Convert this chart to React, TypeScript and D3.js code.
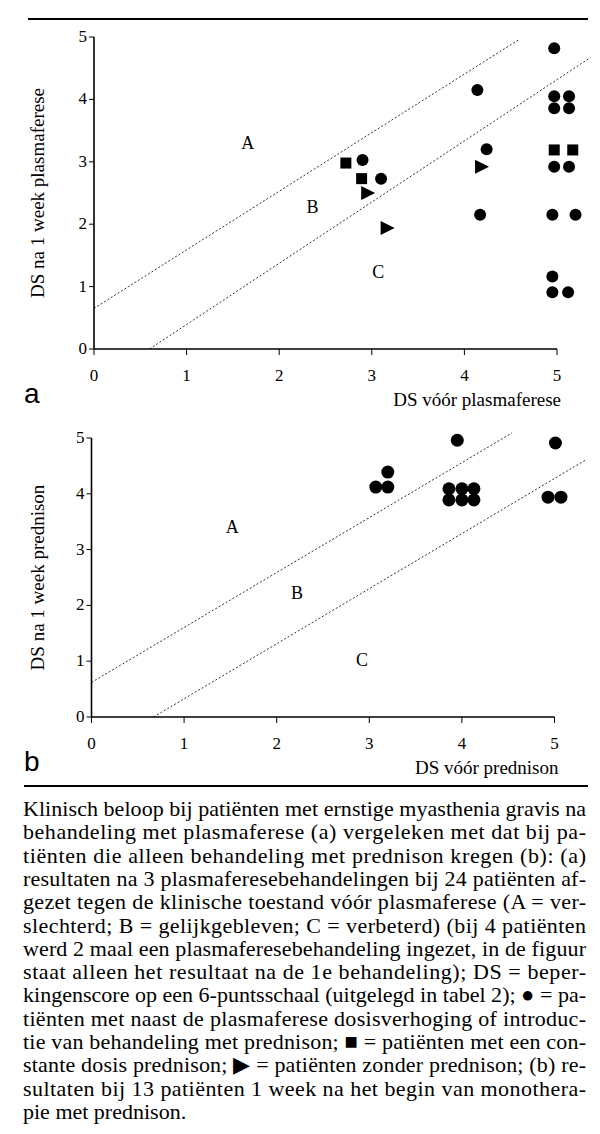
import * as React from 'react';
import * as d3 from "d3";

type Pt = [number, number];

// panel a: DS voor plasmaferese (x) vs DS na 1 week plasmaferese (y)
const circlesA: Pt[] = [
    [2.9, 3.03], [3.1, 2.73], [4.14, 4.15], [4.24, 3.2], [4.17, 2.15],
    [4.97, 4.82], [4.97, 4.05], [5.13, 4.05], [4.97, 3.86], [5.13, 3.86],
    [4.97, 2.92], [5.13, 2.92], [4.95, 2.15], [5.2, 2.15],
    [4.95, 1.16], [4.95, 0.91], [5.12, 0.91]
];
const squaresA: Pt[] = [[2.72, 2.98], [2.89, 2.73], [4.97, 3.19], [5.17, 3.19]];
const trianglesA: Pt[] = [[2.95, 2.5], [3.16, 1.94], [4.18, 2.92]];
const upperLineA: Pt[] = [[0, 0.65], [4.58, 4.95]];
const lowerLineA: Pt[] = [[0.6, 0], [5.36, 4.67]];
const regionsA: [string, number, number][] = [["A", 1.66, 3.3], ["B", 2.36, 2.28], ["C", 3.07, 1.23]];

// panel b: prednison monotherapie
const circlesB: Pt[] = [
    [3.95, 4.96], [5.01, 4.91], [3.2, 4.39], [3.07, 4.12], [3.2, 4.12],
    [3.86, 4.09], [4.0, 4.09], [4.13, 4.09], [3.86, 3.89], [4.0, 3.89], [4.13, 3.89],
    [4.93, 3.94], [5.07, 3.94]
];
const upperLineB: Pt[] = [[0, 0.62], [4.54, 5.09]];
const lowerLineB: Pt[] = [[0.67, 0], [5.33, 4.6]];
const regionsB: [string, number, number][] = [["A", 1.52, 3.4], ["B", 2.22, 2.22], ["C", 2.92, 1.02]];

const ticks = [0, 1, 2, 3, 4, 5];

const caption = [
    "Klinisch beloop bij patiënten met ernstige myasthenia gravis na",
    "behandeling met plasmaferese (a) vergeleken met dat bij pa-",
    "tiënten die alleen behandeling met prednison kregen (b): (a)",
    "resultaten na 3 plasmaferesebehandelingen bij 24 patiënten af-",
    "gezet tegen de klinische toestand vóór plasmaferese (A = ver-",
    "slechterd; B = gelijkgebleven; C = verbeterd) (bij 4 patiënten",
    "werd 2 maal een plasmaferesebehandeling ingezet, in de figuur",
    "staat alleen het resultaat na de 1e behandeling); DS = beper-",
    "kingenscore op een 6-puntsschaal (uitgelegd in tabel 2); ● = pa-",
    "tiënten met naast de plasmaferese dosisverhoging of introduc-",
    "tie van behandeling met prednison; ■ = patiënten met een con-",
    "stante dosis prednison; ▶ = patiënten zonder prednison; (b) re-",
    "sultaten bij 13 patiënten 1 week na het begin van monothera-",
    "pie met prednison."
];

const serif = "Liberation Serif, Times New Roman, Times, serif";
const sans = "Liberation Sans, Arial, sans-serif";

interface PanelProps {
    x0: number; x1: number; y0: number; y1: number;
    circles: Pt[]; squares?: Pt[]; triangles?: Pt[];
    upper: Pt[]; lower: Pt[];
    regions: [string, number, number][];
    letter: string; xTitle: string; yTitle: string;
    r: number;
}

function Panel(p: PanelProps) {
    const x = d3.scaleLinear().domain([0, 5]).range([p.x0, p.x1]);
    const y = d3.scaleLinear().domain([0, 5]).range([p.y0, p.y1]);
    const line = d3.line<Pt>().x(d => x(d[0])).y(d => y(d[1]));
    const yMid = (p.y0 + p.y1) / 2;

    return (
        <g>
            <path d={line(p.upper) || undefined} fill="none" stroke="#333" strokeWidth={1} strokeDasharray="2,2" />
            <path d={line(p.lower) || undefined} fill="none" stroke="#333" strokeWidth={1} strokeDasharray="2,2" />

            {/* axes */}
            <line x1={x(0)} x2={x(0)} y1={y(0)} y2={y(5)} stroke="#000" strokeWidth={1.6} />
            <line x1={x(0)} x2={x(5)} y1={y(0)} y2={y(0)} stroke="#000" strokeWidth={1.6} />
            {ticks.map(t => (
                <g key={"y" + t}>
                    <line x1={x(0) - 5} x2={x(0)} y1={y(t)} y2={y(t)} stroke="#000" strokeWidth={1} />
                    <text x={x(0) - 7} y={y(t) + 5} textAnchor="end" fontSize={17} fontFamily={serif}>{t}</text>
                </g>
            ))}
            {ticks.map(t => (
                <g key={"x" + t}>
                    <line x1={x(t)} x2={x(t)} y1={y(0)} y2={y(0) + 6} stroke="#000" strokeWidth={1} />
                    <text x={x(t)} y={y(0) + 32} textAnchor="middle" fontSize={17} fontFamily={serif}>{t}</text>
                </g>
            ))}

            {p.regions.map(([l, rx, ry]) => (
                <text key={l} x={x(rx)} y={y(ry) + 6} textAnchor="middle" fontSize={18} fontFamily={serif}>{l}</text>
            ))}

            {p.circles.map((d, i) => <circle key={"c" + i} cx={x(d[0])} cy={y(d[1])} r={p.r} fill="#000" />)}
            {(p.squares || []).map((d, i) => (
                <rect key={"s" + i} x={x(d[0]) - 5.5} y={y(d[1]) - 5.5} width={11} height={11} fill="#000" />
            ))}
            {(p.triangles || []).map((d, i) => {
                const cx = x(d[0]), cy = y(d[1]);
                return <path key={"t" + i} d={`M${cx - 6},${cy - 7}L${cx + 8},${cy}L${cx - 6},${cy + 7}Z`} fill="#000" />;
            })}

            <text transform={`translate(44,${yMid}) rotate(-90)`} textAnchor="middle" fontSize={19} fontFamily={serif}>{p.yTitle}</text>
            <text x={x(5) + 4} y={y(0) + 57} textAnchor="end" fontSize={19} fontFamily={serif}>{p.xTitle}</text>
            <text x={24} y={y(0) + 54} fontSize={28} fontFamily={sans}>{p.letter}</text>
        </g>
    );
}

export default function App() {
    const lineH = 23.3;
    return (
        <svg width={600} height={1134} style={{ position: "absolute", left: 0, top: 0, background: "#fff" }}>
            <rect width={600} height={1134} fill="#fff" />
            <line x1={28} x2={588} y1={19} y2={19} stroke="#000" strokeWidth={1.8} />

            <Panel x0={94} x1={557} y0={349} y1={37}
                circles={circlesA} squares={squaresA} triangles={trianglesA}
                upper={upperLineA} lower={lowerLineA} regions={regionsA}
                letter="a" xTitle="DS vóór plasmaferese" yTitle="DS na 1 week plasmaferese" r={6} />

            <Panel x0={91.5} x1={554.5} y0={717} y1={438}
                circles={circlesB}
                upper={upperLineB} lower={lowerLineB} regions={regionsB}
                letter="b" xTitle="DS vóór prednison" yTitle="DS na 1 week prednison" r={6.5} />

            <line x1={24} x2={588} y1={786} y2={786} stroke="#000" strokeWidth={1.8} />

            {caption.map((s, i) => (
                <text key={i} x={23} y={816 + i * lineH} fontSize={22} fontFamily={serif}
                    textLength={i < caption.length - 1 ? 563 : undefined}
                    lengthAdjust="spacing">{s}</text>
            ))}
        </svg>
    );
}
